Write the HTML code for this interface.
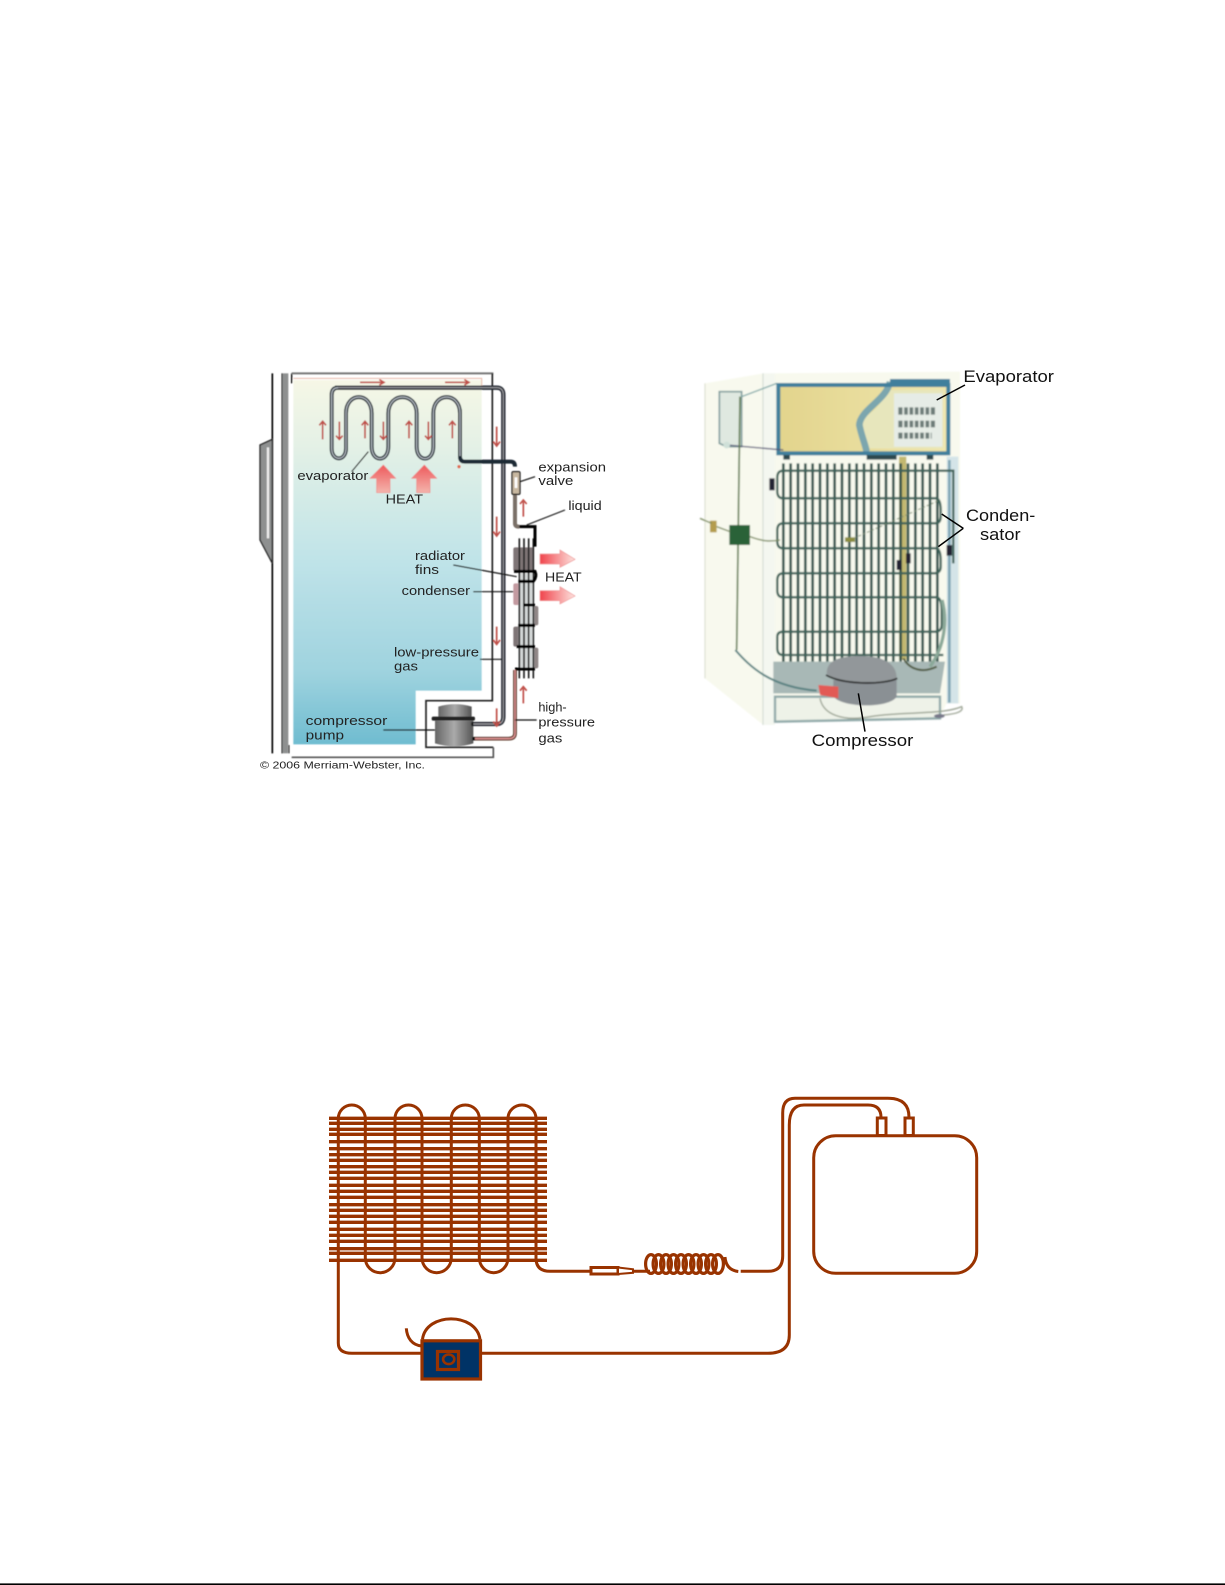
<!DOCTYPE html>
<html><head><meta charset="utf-8"><title>Refrigerator diagrams</title>
<style>html,body{margin:0;padding:0;background:#fff}svg{display:block}text{font-family:"Liberation Sans",sans-serif}</style>
</head><body>
<svg width="1225" height="1585" viewBox="0 0 1225 1585" xmlns="http://www.w3.org/2000/svg">
<defs>
<linearGradient id="fr" x1="0" y1="0" x2="0" y2="1">
<stop offset="0" stop-color="#f6f7e6"/><stop offset=".18" stop-color="#e4f1e6"/><stop offset=".5" stop-color="#bfe3e8"/><stop offset=".8" stop-color="#9fd3df"/><stop offset="1" stop-color="#6fbcd0"/></linearGradient>
<linearGradient id="ha" x1="0" y1="0" x2="1" y2="0"><stop offset="0" stop-color="#f0444c"/><stop offset="1" stop-color="#fde4e0"/></linearGradient>
<linearGradient id="hu" x1="0" y1="1" x2="0" y2="0"><stop offset="0" stop-color="#f4b4ac"/><stop offset="1" stop-color="#ee5a5c"/></linearGradient>
<linearGradient id="ev" x1="0" y1="0" x2="1" y2="0"><stop offset="0" stop-color="#e2d48c"/><stop offset="1" stop-color="#efe6ae"/></linearGradient>
<linearGradient id="cb" x1="0" y1="0" x2="1" y2="0"><stop offset="0" stop-color="#666"/><stop offset=".5" stop-color="#aaa"/><stop offset="1" stop-color="#555"/></linearGradient>
<filter id="b1" x="-5%" y="-5%" width="110%" height="110%"><feGaussianBlur stdDeviation="1.6"/></filter>
<filter id="b2" x="-5%" y="-5%" width="110%" height="110%"><feGaussianBlur stdDeviation="2"/></filter>
<filter id="b3" x="-5%" y="-5%" width="110%" height="110%"><feGaussianBlur stdDeviation="1"/></filter>
</defs>

<!-- LEFT IMAGE -->
<g transform="translate(240,350) scale(.33333)">
<g filter="url(#b1)">
<path d="M160 90H725V1022H527V1183H160Z" fill="url(#fr)"/>
<path d="M160 85H725V110" fill="none" stroke="#e8b8a8" stroke-width="3"/>
<rect x="125" y="70" width="20" height="1140" fill="#8e9090"/>
<g fill="none" stroke="#000" stroke-width="5">
<path d="M97 70V1210"/><path d="M126 70V1210" stroke-width="3"/><path d="M155 70V100" stroke-width="4"/><path d="M147 1185V1210" stroke-width="3"/>
</g>
<path d="M60 285L97 268V640L60 570Z" fill="#8e9090" stroke="#222" stroke-width="4"/>
<path d="M84 292V565" stroke="#eee" stroke-width="7"/>
<g fill="none" stroke="#777" stroke-width="6">
<path d="M155 70H760"/>
</g>
<g fill="none" stroke="#222" stroke-width="5">
<path d="M757 70V1052H558V1192H760"/>
<path d="M155 1222H760V1192" stroke="#555"/>
</g>
<!-- compressor pump -->
<path d="M595 1070Q645 1055 695 1070V1105H595Z" fill="url(#cb)"/>
<rect x="575" y="1100" width="130" height="12" rx="5" fill="#222"/>
<path d="M585 1112H700V1180Q645 1198 585 1180Z" fill="url(#cb)"/>
<!-- condenser blocks -->
<g fill="#7e7476">
<rect x="820" y="592" width="62" height="72" rx="6"/>
<rect x="820" y="700" width="30" height="65" rx="6" fill="#c39aa0"/>
<rect x="850" y="768" width="45" height="58" rx="6" fill="#8f8686"/>
<rect x="820" y="830" width="62" height="60" rx="6"/>
<rect x="850" y="893" width="45" height="62" rx="6" fill="#8f8686"/>
</g>
<rect x="835" y="670" width="48" height="290" fill="#d4d8d8"/>
<g stroke="#222" stroke-width="5">
<path d="M838 565V985M852 565V985M866 565V985M880 565V985"/>
</g>
<g fill="none" stroke="#000" stroke-width="9">
<path d="M835 530H885V590"/>
<path d="M822 664H885Q892 680 880 694H835"/>
<path d="M850 765H885M835 826H885M830 890H885M825 957H885"/>
</g>
<!-- pipes -->
<path d="M825 960V1150Q825 1166 805 1166H700" fill="none" stroke="#532" stroke-width="11"/>
<path d="M825 960V1150Q825 1166 805 1166H700" fill="none" stroke="#e89a9a" stroke-width="4"/>
<path d="M825 435V520Q825 530 838 530" fill="none" stroke="#7a7068" stroke-width="12"/>
<path d="M285 113H770Q790 113 790 135V1100Q790 1122 770 1122H695" fill="none" stroke="#262c34" stroke-width="13"/>
<path d="M285 113H770Q790 113 790 135V1100Q790 1122 770 1122H695" fill="none" stroke="#a8a8ac" stroke-width="3"/>
<path d="M295 113Q275 113 275 135V295C275 335 318 335 318 295V190C318 125 395 125 395 190V290C395 338 445 338 445 290V190C445 125 530 125 530 190V290C530 338 580 338 580 290V190C580 125 660 125 660 190V320Q660 335 675 335H812Q825 335 825 350" fill="none" stroke="#1f2a36" stroke-width="12"/>
<path d="M295 113Q275 113 275 135V295C275 335 318 335 318 295V190C318 125 395 125 395 190V290C395 338 445 338 445 290V190C445 125 530 125 530 190V290C530 338 580 338 580 290V190C580 125 660 125 660 190V318" fill="none" stroke="#aeb4ba" stroke-width="4"/>
<path d="M700 1122h-6M705 1166h-8" stroke="#111" stroke-width="10"/>
<!-- valve -->
<rect x="816" y="365" width="24" height="68" rx="4" fill="#c8b8a0" stroke="#222" stroke-width="4"/>
<rect x="824" y="382" width="8" height="32" fill="#fff"/>
<!-- heat arrows -->
<path d="M390 385L430 345L467 385H450V428H410V385Z" fill="url(#hu)" stroke="#e88" stroke-width="2"/>
<path d="M515 385L553 345L590 385H570V428H530V385Z" fill="url(#hu)" stroke="#e88" stroke-width="2"/>
<path d="M900 612H960V600L1005 628L960 652V642H900Z" fill="url(#ha)" stroke="#e99" stroke-width="2"/>
<path d="M900 722H960V710L1005 738L960 762V752H900Z" fill="url(#ha)" stroke="#e99" stroke-width="2"/>
<!-- small arrows -->
<g fill="none" stroke="#c05048" stroke-width="5">
<path d="M248 218V268M238 226L248 214L258 226"/>
<path d="M298 215V265M288 257L298 268L308 257"/>
<path d="M375 215V265M365 226L375 214L385 226"/>
<path d="M430 215V265M420 257L430 268L440 257"/>
<path d="M507 215V265M497 226L507 214L517 226"/>
<path d="M565 215V265M555 257L565 268L575 257"/>
<path d="M637 215V265M627 226L637 214L647 226"/>
<path d="M360 97H430M418 89L432 97L418 105"/>
<path d="M615 97H685M673 89L687 97L673 105"/>
<path d="M770 230V285M760 275L770 288L780 275"/>
<path d="M770 500V555M760 545L770 558L780 545"/>
<path d="M770 830V880M760 870L770 883L780 870"/>
<path d="M770 1075V1125M760 1115L770 1128L780 1115"/>
<path d="M850 455V500M840 462L850 450L860 462"/>
<path d="M850 1015V1060M840 1022L850 1010L860 1022"/>
</g>
<circle cx="657" cy="350" r="5" fill="#e06a50"/>
<!-- leaders -->
<g fill="none" stroke="#111" stroke-width="3.5">
<path d="M335 365L385 305M840 395L885 380M860 525L975 480M640 645L830 680M700 725H820M720 928H785M430 1140H585M825 1110H890"/>
</g>
</g>
<g filter="url(#b3)" font-size="40" fill="#222">
<text x="172" y="390" textLength="213" lengthAdjust="spacingAndGlyphs">evaporator</text>
<text x="437" y="460" textLength="112" lengthAdjust="spacingAndGlyphs">HEAT</text>
<text x="895" y="365" textLength="203" lengthAdjust="spacingAndGlyphs">expansion</text>
<text x="895" y="405" textLength="105" lengthAdjust="spacingAndGlyphs">valve</text>
<text x="985" y="480" textLength="100" lengthAdjust="spacingAndGlyphs">liquid</text>
<text x="525" y="630" textLength="150" lengthAdjust="spacingAndGlyphs">radiator</text>
<text x="525" y="672" textLength="72" lengthAdjust="spacingAndGlyphs">fins</text>
<text x="485" y="735" textLength="205" lengthAdjust="spacingAndGlyphs">condenser</text>
<text x="915" y="695" textLength="110" lengthAdjust="spacingAndGlyphs">HEAT</text>
<text x="462" y="920" textLength="255" lengthAdjust="spacingAndGlyphs">low-pressure</text>
<text x="462" y="962" textLength="72" lengthAdjust="spacingAndGlyphs">gas</text>
<text x="895" y="1085" textLength="85" lengthAdjust="spacingAndGlyphs">high-</text>
<text x="895" y="1130" textLength="170" lengthAdjust="spacingAndGlyphs">pressure</text>
<text x="895" y="1178" textLength="72" lengthAdjust="spacingAndGlyphs">gas</text>
<text x="197" y="1125" textLength="245" lengthAdjust="spacingAndGlyphs">compressor</text>
<text x="197" y="1168" textLength="115" lengthAdjust="spacingAndGlyphs">pump</text>
<text x="60" y="1255" font-size="30" textLength="495" lengthAdjust="spacingAndGlyphs">© 2006 Merriam-Webster, Inc.</text>
</g>
</g>

<!-- RIGHT IMAGE -->
<g transform="translate(670,350) scale(.33333)">
<g filter="url(#b2)">
<path d="M105 100L280 70L870 65V1060H830L810 1100L315 1115L280 1125L105 985Z" fill="#f8f9ee"/>
<path d="M105 100L105 985" stroke="#d8dccc" stroke-width="3"/>
<path d="M280 70V1125" stroke="#b8c8c0" stroke-width="4"/>
<path d="M280 70H315V1125H280Z" fill="#f4f7f0"/>
<path d="M310 935H825L810 1030H310Z" fill="#a8b8b6"/>
<path d="M315 1040H810V1105L315 1115Z" fill="#eef2e8" stroke="#8fa8a8" stroke-width="7"/>
<path d="M830 320H865V1060H830Z" fill="#d4e4e8"/>
<path d="M838 330V1058" stroke="#7fa6b4" stroke-width="8"/>
<!-- freezer box -->
<path d="M148 125H215V290H170L148 280Z" fill="#dfe8e0" stroke="#7f9c9c" stroke-width="5"/>
<path d="M215 140L320 100" stroke="#7fa8a8" stroke-width="4"/>
<rect x="325" y="105" width="510" height="205" fill="url(#ev)"/>
<path d="M660 120H820V295H590C570 260 555 220 600 190 630 170 640 140 660 120Z" fill="#e7e6bc"/>
<rect x="672" y="130" width="145" height="160" fill="#e6ece6"/>
<g fill="#6d7c78"><rect x="685" y="172" width="110" height="22"/><rect x="685" y="212" width="110" height="20"/><rect x="685" y="248" width="100" height="18"/></g>
<g stroke="#e8efe8" stroke-width="5"><path d="M700 170V270M716 170V270M732 170V270M748 170V270M764 170V270M780 170V270"/></g>
<path d="M660 95C650 150 570 180 568 225 575 260 585 280 590 305" fill="none" stroke="#7ba6ae" stroke-width="20"/>
<rect x="325" y="105" width="510" height="205" fill="none" stroke="#3f7f9c" stroke-width="12"/>
<path d="M660 95H840" stroke="#3f7f9c" stroke-width="16"/>
<path d="M170 285L340 300" stroke="#557" stroke-width="4"/>
<path d="M340 322h20M590 322h90M770 322h20" stroke="#2f4a50" stroke-width="14"/>
<path d="M210 140L200 900" stroke="#5f7a4e" stroke-width="5"/>
<path d="M196 900C240 950 300 1010 440 1022" fill="none" stroke="#568080" stroke-width="6"/>
<circle cx="170" cy="285" r="10" fill="#cfe0d8"/>
<!-- pole under bars -->
<path d="M698 320V930" stroke="#c2b870" stroke-width="22"/>
<!-- condenser -->
<g stroke="#2a4f48" stroke-width="8">
<path d="M340 340V935M362 340V935M384 340V935M406 340V935M428 340V935M450 340V935M472 340V935M494 340V935M516 340V935M538 340V935M560 340V935M582 340V935M604 340V935M626 340V935M648 340V935M670 340V935M692 340V935M714 340V935M736 340V935M758 340V935M780 340V935M802 340V935"/>
</g>
<g fill="none" stroke="#3c6258" stroke-width="7">
<path d="M340 362Q322 362 322 382V425Q322 445 340 445H800Q812 450 812 480V500Q812 520 795 520H340Q322 520 322 540V575Q322 595 340 595H800Q812 600 812 630V650Q812 668 795 670H340Q322 670 322 690V722Q322 742 340 742H800Q815 745 815 780V825Q815 845 795 845H340Q322 845 322 860V895Q322 915 340 915H820"/>
<path d="M340 362H850V640"/>
</g>
<path d="M816 750C830 800 830 880 780 950" fill="none" stroke="#8aa898" stroke-width="10"/>
<path d="M700 925C720 960 760 970 800 950" fill="none" stroke="#4f5a40" stroke-width="6"/>
<!-- small parts -->
<rect x="178" y="525" width="62" height="60" fill="#2a6238"/>
<rect x="120" y="512" width="20" height="35" fill="#b49c4e"/>
<path d="M90 505L125 520M140 530L180 545M240 560C280 575 300 575 330 570" fill="none" stroke="#7a8a5e" stroke-width="4"/>
<path d="M540 570L810 450" stroke="#7a8a6e" stroke-width="3" stroke-dasharray="8 6"/>
<rect x="525" y="562" width="30" height="14" fill="#8a8c40"/>
<rect x="298" y="385" width="16" height="36" fill="#223"/>
<rect x="830" y="585" width="16" height="32" fill="#223"/>
<rect x="708" y="610" width="14" height="30" fill="#223"/>
<rect x="680" y="630" width="14" height="30" fill="#223"/>
<!-- compressor -->
<path d="M490 990H680V1040C660 1075 520 1075 490 1040Z" fill="#8a9094"/>
<path d="M470 970C470 930 510 918 570 918 640 918 680 940 680 985 640 1005 510 1005 470 970Z" fill="#92979a"/>
<path d="M468 975C520 1005 640 1005 682 985" fill="none" stroke="#222" stroke-width="5"/>
<path d="M445 1005L505 1010V1045L450 1035Z" fill="#e25a55"/>
<path d="M450 1045C460 1095 520 1115 600 1100S820 1095 875 1070Q885 1090 820 1095" fill="none" stroke="#98a090" stroke-width="4"/>
<ellipse cx="808" cy="1098" rx="16" ry="6" fill="#778"/>
</g>
<g stroke="#000" stroke-width="4.5" fill="none">
<path d="M885 105L800 150"/><path d="M880 535L815 492M880 535L805 590"/><path d="M565 1030L585 1145"/>
</g>
<g font-size="50" fill="#111">
<text x="880" y="96" textLength="272" lengthAdjust="spacingAndGlyphs">Evaporator</text>
<text x="888" y="513" textLength="208" lengthAdjust="spacingAndGlyphs">Conden-</text>
<text x="930" y="570" textLength="122" lengthAdjust="spacingAndGlyphs">sator</text>
<text x="425" y="1188" textLength="305" lengthAdjust="spacingAndGlyphs">Compressor</text>
</g>
</g>

<!-- BOTTOM SCHEMATIC -->
<g stroke="#993300" fill="none">
<g stroke-width="3.3">
<path d="M329 1118.3H547M329 1123.3H547M329 1129.3H547M329 1134.3H547M329 1141.7H547M329 1148.7H547M329 1154.7H547M329 1160.3H547M329 1166.7H547M329 1172.3H547M329 1178.3H547M329 1185.3H547M329 1191.3H547M329 1197.3H547M329 1204.7H547M329 1210.3H547M329 1216.3H547M329 1222.3H547M329 1229.3H547M329 1235.3H547M329 1241.3H547M329 1248.7H547M329 1253.3H547M329 1260.3H547"/>
</g>
<g stroke-width="3">
<path d="M338.3 1343V1118.5A13.5 13.5 0 0 1 365.3 1118.5V1257.7A14.85 15 0 0 0 395 1257.7V1118.5A13.5 13.5 0 0 1 422 1118.5V1257.7A14.65 15 0 0 0 451.3 1257.7V1118.5A14 13.5 0 0 1 479.3 1118.5V1257.7A14.35 15 0 0 0 508 1257.7V1118.5A14 13.5 0 0 1 536 1118.5V1258Q536 1271.3 550 1271.3H590"/>
<path d="M338.3 1343Q338.3 1353.3 352 1353.3H421"/>
<path d="M481 1353.3H768Q789.3 1353.3 789.3 1335V1125Q789.3 1105 804 1105H868Q881 1105 881 1117.3"/>
<path d="M740.7 1271.3H768Q782.7 1271.3 782.7 1256V1113Q782.7 1098.3 795 1098.3H888Q909 1098.3 909 1117.3"/>
<path d="M725 1257Q726 1270 738.3 1271.5"/>
<path d="M633 1271.3H650"/>
<rect x="591" y="1267.5" width="27" height="6.5" fill="#fff"/>
<path d="M618 1267.5L633 1269.3V1272.8L618 1274" fill="#fff" stroke-width="2"/>
<path d="M618 1267V1274" stroke-width="2"/>
<rect x="877.3" y="1118" width="8.7" height="17.5" fill="#fff"/>
<rect x="905" y="1118" width="8.3" height="17.5" fill="#fff"/>
<rect x="813.7" y="1135.7" width="163" height="137.6" rx="22" ry="22" fill="#fff"/>
<g stroke-width="3.2">
<ellipse cx="651" cy="1264" rx="5.4" ry="9.4"/><ellipse cx="658.5" cy="1264" rx="5.4" ry="9.4"/><ellipse cx="666" cy="1264" rx="5.4" ry="9.4"/><ellipse cx="673.5" cy="1264" rx="5.4" ry="9.4"/><ellipse cx="681" cy="1264" rx="5.4" ry="9.4"/><ellipse cx="688.5" cy="1264" rx="5.4" ry="9.4"/><ellipse cx="696" cy="1264" rx="5.4" ry="9.4"/><ellipse cx="703.5" cy="1264" rx="5.4" ry="9.4"/><ellipse cx="711" cy="1264" rx="5.4" ry="9.4"/><ellipse cx="718" cy="1264" rx="5.4" ry="9.4"/>
</g>
<path d="M422.5 1339.3C426 1312 476 1312 480 1339.3"/>
<path d="M406.3 1328.3C407 1338 412 1345 421.7 1346"/>
</g>
<rect x="421.5" y="1340.8" width="59" height="38" fill="#003366"/>
<rect x="422" y="1340.8" width="58.5" height="38.2" fill="none" stroke="#993300" stroke-width="3.2"/>
<rect x="437.5" y="1351.5" width="21" height="18" fill="#003366" stroke="#993300" stroke-width="3.2"/>
<ellipse cx="448.7" cy="1359.3" rx="5.6" ry="4.8" fill="#003366" stroke="#993300" stroke-width="2.6"/>
</g>

<rect x="0" y="1583.4" width="1225" height="1.6" fill="#000"/>
</svg>
</body></html>
